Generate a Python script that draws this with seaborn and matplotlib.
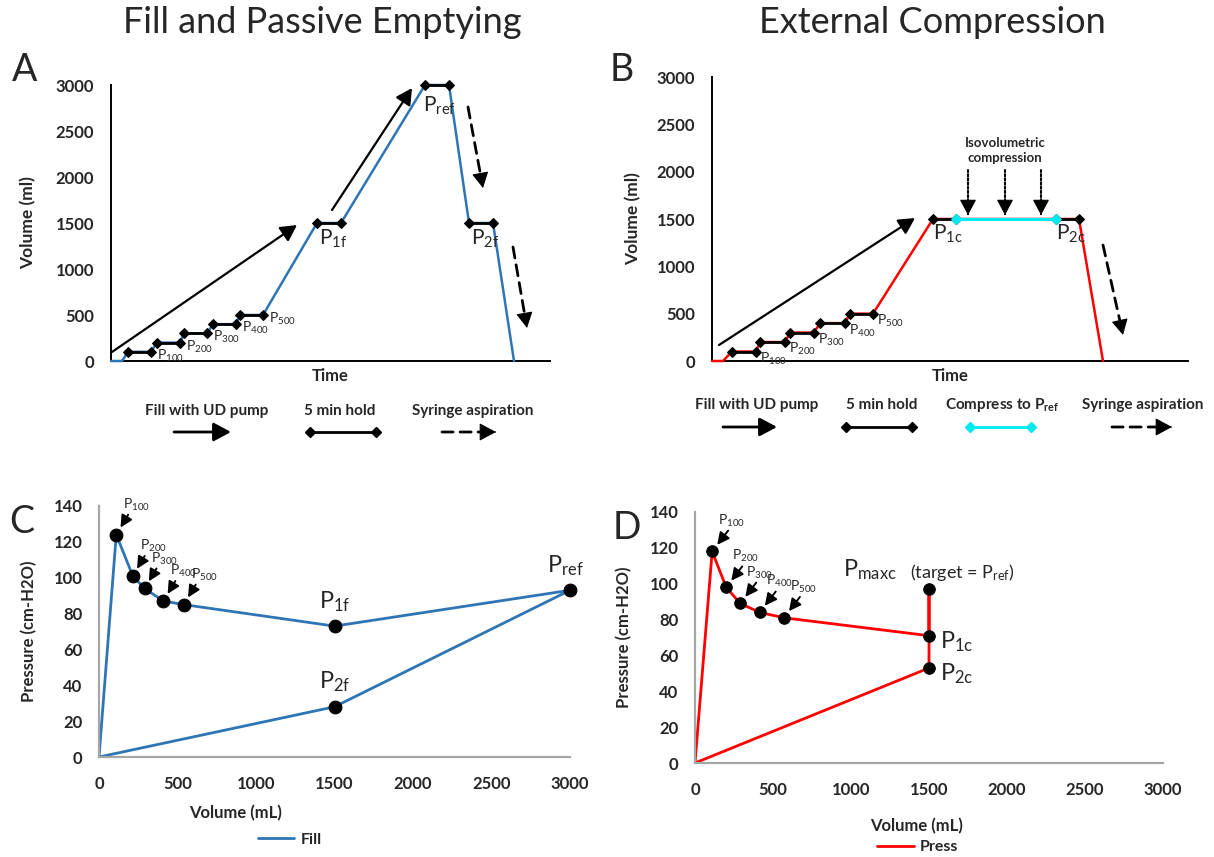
import matplotlib
matplotlib.use("Agg")
import matplotlib.pyplot as plt
import seaborn as sns

# ---------------- data ----------------
# Panel A: fill with UD pump, 5 min holds, passive emptying (time in arbitrary units, ml)
fill_time = [0, 11, 17, 40, 46, 69, 73, 96, 102, 125, 129, 152, 206, 230, 314, 338, 358, 382, 403]
fill_volume = [0, 0, 100, 100, 200, 200, 300, 300, 400, 400, 500, 500,
               1500, 1500, 3000, 3000, 1500, 1500, 0]
fill_hold_start = [2, 4, 6, 8, 10, 12, 14, 16]
fill_hold_labels = ["100", "200", "300", "400", "500", "1f", "ref", "2f"]
fill_pump_arrows = [((1, 98), (186, 1478)), ((221, 1641), (301, 2967))]
fill_aspiration_arrows = [((357, 2761), (372, 1880)), ((402, 1239), (416, 359))]

# Panel B: fill, holds, isovolumetric compression, syringe aspiration
comp_time = [0, 11, 20, 44, 48, 73, 78, 102, 108, 133, 138, 161, 221, 244, 344, 367, 391]
comp_volume = [0, 0, 100, 100, 200, 200, 300, 300, 400, 400, 500, 500,
               1500, 1500, 1500, 1500, 0]
comp_hold_start = [2, 4, 6, 8, 10, 12, 14]
comp_hold_labels = ["100", "200", "300", "400", "500", "1c", "2c"]
compress_start = 13
comp_pump_arrows = [((7, 169), (203, 1510))]
comp_aspiration_arrows = [((391, 1225), (411, 275))]
compression_arrow_times = [256, 293, 329]
compression_arrow_volumes = (2017, 1542)

# Panel C: pressure-volume, fill and passive emptying
fill_pv_volume = [0, 110, 215, 290, 410, 540, 1500, 3000, 1500, 0]
fill_pv_pressure = [0, 124, 101, 94, 87, 85, 73, 93, 28, 0]
fill_pv_labels = ["100", "200", "300", "400", "500", "1f", "ref", "2f"]

# Panel D: pressure-volume, external compression
press_pv_volume = [0, 110, 200, 290, 415, 570, 1500, 1500, 1500, 0]
press_pv_pressure = [0, 118, 98, 89, 84, 81, 71, 97, 53, 0]
press_pv_labels = ["100", "200", "300", "400", "500", "1c", "maxc", "2c"]

BLUE = "#2E75B6"
RED = "#FF0000"
CYAN = "#00E8F0"
GRAY = "#A6A6A6"
DASH = (0, (4, 2.5))

sns.set_style("white")
plt.rcParams["font.family"] = ["Lato", "DejaVu Sans"]
plt.rcParams["mathtext.default"] = "regular"

W, H = 1214, 857
fig = plt.figure(figsize=(W / 100, H / 100), dpi=100)

# overlay in pixel units for titles, panel letters and the protocol key rows
ov = fig.add_axes([0, 0, 1, 1], zorder=-1)
ov.set_xlim(0, W)
ov.set_ylim(H, 0)
ov.axis("off")

HEAD = "-|>,head_length=0.75,head_width=0.4"


def place(l, t, r, b):
    return fig.add_axes([l / W, 1 - b / H, (r - l) / W, (b - t) / H])


def arrow(ax, start, end, ls="-", lw=1.6, ms=13, color="black"):
    """Straight arrow; the shaft may be dashed/dotted while the head stays solid."""
    if ls == "-":
        ax.annotate("", xy=end, xytext=start,
                    arrowprops=dict(arrowstyle=HEAD, color=color, lw=lw,
                                    mutation_scale=ms, shrinkA=0, shrinkB=0))
        return
    ax.annotate("", xy=end, xytext=start,
                arrowprops=dict(arrowstyle="-", color=color, lw=lw, linestyle=ls,
                                shrinkA=0, shrinkB=ms * 0.6))
    # solid head only: a very short arrow ending at the tip
    fx = end[0] + (start[0] - end[0]) * 0.02
    fy = end[1] + (start[1] - end[1]) * 0.02
    ax.annotate("", xy=end, xytext=(fx, fy),
                arrowprops=dict(arrowstyle=HEAD, color=color, lw=0.8,
                                mutation_scale=ms, shrinkA=0, shrinkB=0))


def style_volume_axes(ax, xmax):
    ax.set_xlim(0, xmax)
    ax.set_ylim(0, 3000)
    ax.set_yticks(range(0, 3001, 500))
    ax.set_xticks([])
    for s in ("top", "right"):
        ax.spines[s].set_visible(False)
    for s in ("left", "bottom"):
        ax.spines[s].set_color("black")
        ax.spines[s].set_linewidth(1.4)
    ax.tick_params(axis="y", length=0, pad=12, labelsize=12)
    for t in ax.get_yticklabels():
        t.set_fontweight("bold")
    ax.set_xlabel("Time", fontsize=12, fontweight="bold", labelpad=5)
    ax.set_ylabel("Volume (ml)", fontsize=12.5, fontweight="bold")


def style_pv_axes(ax):
    ax.set_xlim(0, 3000)
    ax.set_ylim(0, 140)
    ax.set_xticks(range(0, 3001, 500))
    ax.set_yticks(range(0, 141, 20))
    for s in ("top", "right"):
        ax.spines[s].set_visible(False)
    for s in ("left", "bottom"):
        ax.spines[s].set_color(GRAY)
        ax.spines[s].set_linewidth(1.6)
    ax.tick_params(axis="both", length=0, labelsize=12)
    ax.tick_params(axis="y", pad=12)
    ax.tick_params(axis="x", pad=14)
    for t in ax.get_xticklabels() + ax.get_yticklabels():
        t.set_fontweight("bold")
    ax.set_xlabel("Volume (mL)", fontsize=12, fontweight="bold")
    ax.set_ylabel("Pressure (cm-H2O)", fontsize=12, fontweight="bold")


# ---------------- Panel A ----------------
axA = place(111, 85, 550, 361)
sns.lineplot(x=fill_time, y=fill_volume, sort=False, estimator=None,
             color=BLUE, lw=1.8, clip_on=False, zorder=3, ax=axA)
for k, i in enumerate(fill_hold_start):
    sns.lineplot(x=fill_time[i:i + 2], y=fill_volume[i:i + 2], sort=False,
                 estimator=None, color="black", lw=2, marker="D", ms=5,
                 mec="black", mfc="black", clip_on=False, zorder=4, ax=axA)
    lab = "P$_{%s}$" % fill_hold_labels[k]
    if k < 5:
        axA.annotate(lab, xy=(fill_time[i + 1], fill_volume[i + 1]),
                     xytext=(4, 3), textcoords="offset points",
                     ha="left", va="top", fontsize=10, color="#262626")
    else:
        off = (-1.5, -7) if fill_hold_labels[k] == "ref" else (1.5, -3.5)
        axA.annotate(lab, xy=(fill_time[i], fill_volume[i]), xytext=off,
                     textcoords="offset points", ha="left", va="top", fontsize=15)
for s, e in fill_pump_arrows:
    arrow(axA, s, e)
for s, e in fill_aspiration_arrows:
    arrow(axA, s, e, ls=DASH, lw=2)
style_volume_axes(axA, 439)
axA.yaxis.set_label_coords(-0.169, 0.5)

# ---------------- Panel B ----------------
axB = place(712, 77, 1188, 361)
sns.lineplot(x=comp_time, y=comp_volume, sort=False, estimator=None,
             color=RED, lw=1.8, clip_on=False, zorder=3, ax=axB)
for k, i in enumerate(comp_hold_start):
    sns.lineplot(x=comp_time[i:i + 2], y=comp_volume[i:i + 2], sort=False,
                 estimator=None, color="black", lw=2, marker="D", ms=5,
                 mec="black", mfc="black", clip_on=False, zorder=4, ax=axB)
    lab = "P$_{%s}$" % comp_hold_labels[k]
    if k < 5:
        axB.annotate(lab, xy=(comp_time[i + 1], comp_volume[i + 1]),
                     xytext=(3, 0.5), textcoords="offset points",
                     ha="left", va="top", fontsize=10, color="#262626")
    else:
        axB.annotate(lab, xy=(comp_time[i], comp_volume[i]), xytext=(0, -3),
                     textcoords="offset points", ha="left", va="top", fontsize=15)
c0 = compress_start
sns.lineplot(x=comp_time[c0:c0 + 2], y=comp_volume[c0:c0 + 2], sort=False,
             estimator=None, color=CYAN, lw=2.2, marker="D", ms=5,
             mec=CYAN, mfc=CYAN, zorder=5, ax=axB)
for s, e in comp_pump_arrows:
    arrow(axB, s, e)
for s, e in comp_aspiration_arrows:
    arrow(axB, s, e, ls=DASH, lw=2)
for t in compression_arrow_times:
    arrow(axB, (t, compression_arrow_volumes[0]), (t, compression_arrow_volumes[1]),
          ls=(0, (1, 1)), lw=1.5)
axB.text(compression_arrow_times[1], 2225, "Isovolumetric\ncompression",
         ha="center", va="center", fontsize=9.5, fontweight="bold", linespacing=1.25)
style_volume_axes(axB, 476)
axB.yaxis.set_label_coords(-0.149, 0.5)

# ---------------- Panel C ----------------
axC = place(99, 506, 570, 757)
sns.lineplot(x=fill_pv_volume, y=fill_pv_pressure, sort=False, estimator=None,
             color=BLUE, lw=2, label="Fill", ax=axC)
sns.scatterplot(x=fill_pv_volume[1:-1], y=fill_pv_pressure[1:-1], s=85,
                color="black", edgecolor="black", zorder=5, clip_on=False,
                ax=axC, legend=False)
for k in range(8):
    v, p = fill_pv_volume[k + 1], fill_pv_pressure[k + 1]
    lab = "P$_{%s}$" % fill_pv_labels[k]
    if k < 5:
        axC.annotate("", xy=(v, p), xytext=(8.6, 14.4), textcoords="offset points",
                     arrowprops=dict(arrowstyle="-|>,head_length=0.6,head_width=0.3",
                                     color="black", lw=1.4, mutation_scale=12,
                                     shrinkA=0, shrinkB=6))
        axC.annotate(lab, xy=(v, p), xytext=(5, 15.5), textcoords="offset points",
                     ha="left", va="bottom", fontsize=10, color="#262626")
    else:
        dx = -3.6 if fill_pv_labels[k] == "ref" else 0
        axC.annotate(lab, xy=(v, p), xytext=(dx, 9), textcoords="offset points",
                     ha="center", va="bottom", fontsize=17)
style_pv_axes(axC)
axC.yaxis.set_label_coords(-0.132, 0.5)
axC.xaxis.set_label_coords(0.29, -0.19)
axC.legend(loc="center", bbox_to_anchor=(0.405, -0.33), frameon=False,
           handlelength=2.3, handletextpad=0.4,
           prop=dict(size=11.5, weight="bold"))

# ---------------- Panel D ----------------
axD = place(695, 512, 1163, 763)
sns.lineplot(x=press_pv_volume, y=press_pv_pressure, sort=False, estimator=None,
             color=RED, lw=2, label="Press", ax=axD)
sns.scatterplot(x=press_pv_volume[1:-1], y=press_pv_pressure[1:-1], s=70,
                color="black", edgecolor="black", zorder=5, clip_on=False,
                ax=axD, legend=False)
for k in range(8):
    v, p = press_pv_volume[k + 1], press_pv_pressure[k + 1]
    lab = "P$_{%s}$" % press_pv_labels[k]
    if k < 5:
        axD.annotate("", xy=(v, p), xytext=(11.5, 15), textcoords="offset points",
                     arrowprops=dict(arrowstyle="-|>,head_length=0.6,head_width=0.3",
                                     color="black", lw=1.4, mutation_scale=12,
                                     shrinkA=0, shrinkB=6))
        axD.annotate(lab, xy=(v, p), xytext=(4.3, 16.5), textcoords="offset points",
                     ha="left", va="bottom", fontsize=10, color="#262626")
    elif press_pv_labels[k] == "maxc":
        axD.annotate(lab, xy=(v, p), xytext=(-23, 5), textcoords="offset points",
                     ha="right", va="bottom", fontsize=17)
        axD.annotate("(target = P$_{ref}$)", xy=(v, p), xytext=(-13.7, 12.2),
                     textcoords="offset points", ha="left", va="center", fontsize=13)
    else:
        axD.annotate(lab, xy=(v, p), xytext=(8, -4), textcoords="offset points",
                     ha="left", va="center", fontsize=17)
style_pv_axes(axD)
axD.yaxis.set_label_coords(-0.135, 0.5)
axD.xaxis.set_label_coords(0.474, -0.219)
axD.legend(loc="center", bbox_to_anchor=(0.476, -0.335), frameon=False,
           handlelength=2.3, handletextpad=0.4,
           prop=dict(size=11.5, weight="bold"))

# ---------------- titles and panel letters ----------------
ov.text(322, 22, "Fill and Passive Emptying", ha="center", va="center", fontsize=26)
ov.text(932, 22, "External Compression", ha="center", va="center", fontsize=26)
for letter, x, y in (("A", 25, 70), ("B", 622, 70), ("C", 22, 522), ("D", 627, 528)):
    ov.text(x, y, letter, ha="center", va="center", fontsize=27)

# ---------------- protocol keys ----------------
def key_hold(x0, x1, y, color):
    ov.plot([x0, x1], [y, y], color=color, lw=2, marker="D", ms=5, mec=color, mfc=color)


def key_arrow(x0, x1, y, ls="-"):
    arrow(ov, (x0, y), (x1, y), ls=ls, lw=2, ms=14)


kw = dict(ha="center", va="center", fontsize=11, fontweight="bold")
ov.text(207, 411, "Fill with UD pump", **kw)
ov.text(340, 411, "5 min hold", **kw)
ov.text(473, 411, "Syringe aspiration", **kw)
key_arrow(174, 231, 432)
key_hold(310, 376, 432, "black")
key_arrow(442, 496, 432, ls=DASH)

ov.text(757, 405, "Fill with UD pump", **kw)
ov.text(882, 405, "5 min hold", **kw)
ov.text(1002, 405, "Compress to P$_{ref}$", **kw)
ov.text(1143, 405, "Syringe aspiration", **kw)
key_arrow(723, 777, 427)
key_hold(846, 912, 427, "black")
key_hold(970, 1031, 427, CYAN)
key_arrow(1112, 1172, 427, ls=DASH)

fig.savefig("out.png", dpi=100)
